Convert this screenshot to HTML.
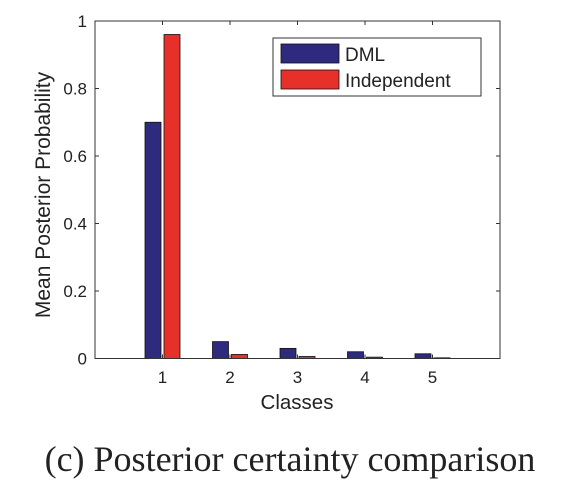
<!DOCTYPE html>
<html><head><meta charset="utf-8">
<style>
html,body{margin:0;padding:0;background:#fff;width:576px;height:484px;overflow:hidden}
svg{display:block}
text{font-family:"Liberation Sans",sans-serif;fill:#222}
</style></head>
<body>
<svg id="chart" width="576" height="484">
  <rect x="95" y="21" width="405" height="337.5" fill="#fff"/>
  <g id="bars"></g>
  <g id="ticks"></g>
  <rect x="95" y="21" width="405" height="337.5" fill="none" stroke="#333" stroke-width="1"/>
  <text x="297" y="409" font-size="20.5" text-anchor="middle">Classes</text>
  <text transform="translate(50,195) rotate(-90)" font-size="21" text-anchor="middle">Mean Posterior Probability</text>
  <g>
    <rect x="273" y="38" width="208" height="58" fill="#fff" stroke="#333" stroke-width="1"/>
    <rect x="281" y="44" width="58" height="19" fill="#2e2a7e" stroke="#111" stroke-width="0.8"/>
    <text x="345" y="61" font-size="19">DML</text>
    <rect x="281" y="70" width="58" height="19" fill="#e8302a" stroke="#111" stroke-width="0.8"/>
    <text x="345" y="87" font-size="19">Independent</text>
  </g>
  <text x="290" y="471" font-size="36" text-anchor="middle" style="font-family:'Liberation Serif',serif">(c) Posterior certainty comparison</text>
</svg>
<script>
const categories = ["1","2","3","4","5"];
const dmlValues = [0.70, 0.05, 0.03, 0.02, 0.014];
const indepValues = [0.96, 0.012, 0.006, 0.004, 0.002];
const yTicks = [0, 0.2, 0.4, 0.6, 0.8, 1];
const yTickLabels = ["0","0.2","0.4","0.6","0.8","1"];

const NS = "http://www.w3.org/2000/svg";
const X0 = 95, X1 = 500, Y0 = 358.5, Y1 = 21;
function xScale(i){ return X0 + (i + 1) * (X1 - X0) / (categories.length + 1); }
function yScale(v){ return Y0 - v * (Y0 - Y1); }
const bars = document.getElementById("bars");
const ticks = document.getElementById("ticks");
function mk(tag, attrs){ const e = document.createElementNS(NS, tag); for (const k in attrs) e.setAttribute(k, attrs[k]); return e; }

categories.forEach((c, i) => {
  const cx = xScale(i);
  const b1 = mk("rect", {x: cx - 17.5, y: yScale(dmlValues[i]), width: 16, height: Y0 - yScale(dmlValues[i]), fill: "#2e2a7e", stroke: "#111", "stroke-width": 0.8});
  
  
  bars.appendChild(b1);
  const b2 = mk("rect", {x: cx + 1.5, y: yScale(indepValues[i]), width: 16, height: Y0 - yScale(indepValues[i]), fill: "#e8302a", stroke: "#111", "stroke-width": 0.8});
  
  
  bars.appendChild(b2);
  ticks.appendChild(mk("line", {x1: cx, x2: cx, y1: Y0, y2: Y0 - 4, stroke: "#333"}));
  ticks.appendChild(mk("line", {x1: cx, x2: cx, y1: Y1, y2: Y1 + 4, stroke: "#333"}));
  const t = mk("text", {x: cx, y: 383, "font-size": 17, "text-anchor": "middle"});
  t.textContent = c;
  
  
  ticks.appendChild(t);
});
yTicks.forEach((v, i) => {
  const y = yScale(v);
  ticks.appendChild(mk("line", {x1: X0, x2: X0 + 4, y1: y, y2: y, stroke: "#333"}));
  ticks.appendChild(mk("line", {x1: X1, x2: X1 - 4, y1: y, y2: y, stroke: "#333"}));
  const t = mk("text", {x: 87, y: y + 6, "font-size": 17, "text-anchor": "end"});
  t.textContent = yTickLabels[i];
  
  
  ticks.appendChild(t);
});
</script>
</body></html>
